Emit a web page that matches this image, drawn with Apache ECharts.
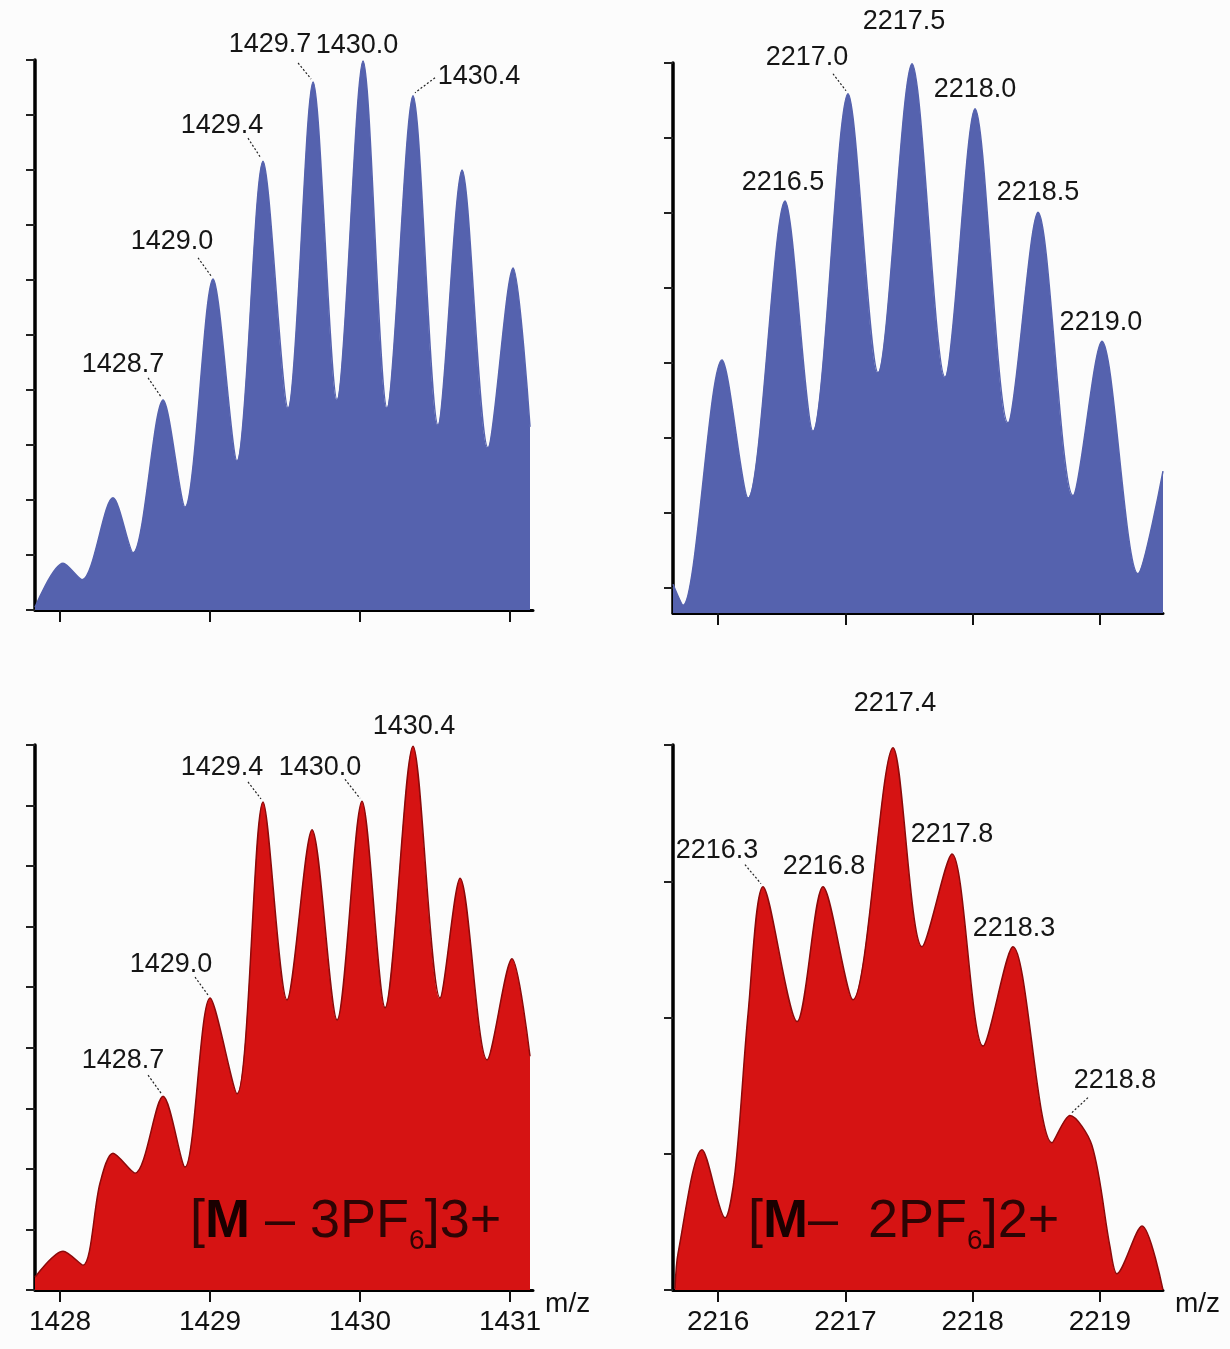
<!DOCTYPE html>
<html>
<head>
<meta charset="utf-8">
<script src="https://cdn.jsdelivr.net/npm/echarts@6/dist/echarts.min.js"></script>
<style>
html, body { margin: 0; padding: 0; background: #fcfcfc; }
#chart { width: 1230px; height: 1349px; }
</style>
</head>
<body>
<div id="chart"></div>
<script>
// top left: measured [M-3PF6]3+
var mzTL = [1427.833, 1428.02, 1428.147, 1428.353, 1428.487, 1428.687, 1428.833, 1429.02, 1429.18, 1429.353, 1429.52,
  1429.687, 1429.847, 1430.02, 1430.18, 1430.353, 1430.52, 1430.68, 1430.853, 1431.02, 1431.133];
var intTL = [0.05, 0.85, 0.55, 2.04, 1.04, 3.82, 1.87, 6.02, 2.71, 8.16, 3.67,
  9.6, 3.82, 9.98, 3.67, 9.35, 3.36, 8.0, 2.95, 6.22, 3.33];
var peakTextTL = ['1428.7', '1429.0', '1429.4', '1429.7', '1430.0', '1430.4'];
var peakIdxTL = [5, 7, 9, 11, 13, 15];

// top right: measured [M-2PF6]2+
var mzTR = [2215.646, 2215.725, 2216.031, 2216.236, 2216.526, 2216.746, 2217.021, 2217.257, 2217.524, 2217.783,
  2218.019, 2218.278, 2218.514, 2218.789, 2219.016, 2219.299, 2219.496];
var intTR = [0.05, -0.23, 3.04, 1.2, 5.16, 2.09, 6.59, 2.87, 6.99, 2.81,
  6.39, 2.2, 5.01, 1.23, 3.29, 0.19, 1.56];
var peakTextTR = ['2216.5', '2217.0', '2217.5', '2218.0', '2218.5', '2219.0'];
var peakIdxTR = [4, 6, 8, 10, 12, 14];

// bottom left: simulated [M-3PF6]3+
var mzBL = [1427.833, 1428.02, 1428.153, 1428.267, 1428.353, 1428.5, 1428.687, 1428.833, 1429.0, 1429.18, 1429.353,
  1429.513, 1429.68, 1429.847, 1430.013, 1430.167, 1430.353, 1430.533, 1430.667, 1430.847, 1431.013, 1431.133];
var intBL = [0.21, 0.64, 0.41, 1.77, 2.26, 1.93, 3.2, 2.03, 4.82, 3.24, 8.06,
  4.79, 7.6, 4.46, 8.07, 4.66, 8.98, 4.82, 6.8, 3.8, 5.47, 3.86];
var peakTextBL = ['1428.7', '1429.0', '1429.4', '1430.0', '1430.4'];
var peakIdxBL = [6, 8, 10, 14, 16];

// bottom right: simulated [M-2PF6]2+
var mzBR = [2215.662, 2215.686, 2215.874, 2216.055, 2216.134, 2216.236, 2216.353, 2216.621, 2216.825, 2217.06, 2217.375,
  2217.603, 2217.838, 2218.082, 2218.317, 2218.624, 2218.765, 2218.938, 2219.079, 2219.134, 2219.331, 2219.496];
var intBR = [0.01, 0.27, 1.03, 0.53, 0.87, 2.03, 2.96, 1.97, 2.96, 2.13, 3.98,
  2.52, 3.2, 1.79, 2.52, 1.08, 1.28, 1.06, 0.32, 0.12, 0.47, 0.0];
var peakTextBR = ['2216.3', '2216.8', '2217.4', '2217.8', '2218.3', '2218.8'];
var peakIdxBR = [6, 8, 10, 12, 14, 16];

var ticks3 = [1428, 1429, 1430, 1431];
var ticks2 = [2216, 2217, 2218, 2219];
var yTicksTL = [0, 1, 2, 3, 4, 5, 6, 7, 8, 9, 10];
var yTicksTR = [0, 1, 2, 3, 4, 5, 6, 7];
var yTicksBL = [0, 1, 2, 3, 4, 5, 6, 7, 8, 9];
var yTicksBR = [0, 1, 2, 3, 4];

// label placement (px from the peak): text dx, dy, leader start dx, dy
var layoutTL = [[-40, -35, -15, -22], [-41, -37, -15, -21], [-41, -36, -15, -23], [-43, -37, -15, -19], [-6, -16], [66, -19, 22, -18]];
var layoutTR = [[-2, -18], [-41, -36, -15, -20], [-8, -42], [0, -19], [0, -20], [-1, -19]];
var layoutBL = [[-40, -36, -15, -21], [-39, -34, -15, -21], [-41, -34, -15, -20], [-42, -34, -17, -22], [1, -20]];
var layoutBR = [[-46, -36, -18, -22], [1, -20], [2, -44], [0, -19], [1, -18], [45, -35, 18, -18]];

var FONT = '"Liberation Sans", Arial, sans-serif';
var BLUE = '#5562ae';
var RED = '#d61313';

function pairs(xs, ys) {
  return xs.map(function (x, i) { return [x, ys[i]]; });
}

function xAxisOf(gi, min, max, ticks, withLabels) {
  return {
    type: 'value', gridIndex: gi, min: min, max: max,
    splitLine: { show: false },
    axisLine: { onZero: false, lineStyle: { color: '#000', width: 3 } },
    axisTick: { customValues: ticks, length: 12, lineStyle: { color: '#111', width: 2 } },
    axisLabel: {
      show: withLabels, customValues: ticks, margin: 18,
      formatter: function (v) { return String(v); },
      fontFamily: FONT, fontSize: 28, color: '#111'
    },
    name: withLabels ? 'm/z' : '',
    nameLocation: 'end', nameGap: 12,
    nameTextStyle: { fontFamily: FONT, fontSize: 28, color: '#111', verticalAlign: 'top', padding: [0, 0, 0, 0] }
  };
}

function yAxisOf(gi, min, max, ticks) {
  return {
    type: 'value', gridIndex: gi, min: min, max: max,
    splitLine: { show: false },
    axisLine: { onZero: false, lineStyle: { color: '#000', width: 3.5 } },
    axisTick: { customValues: ticks, length: 9, lineStyle: { color: '#222', width: 2 } },
    axisLabel: { show: false }
  };
}

function areaSeries(gi, xs, ys, color, edge) {
  return {
    type: 'line', xAxisIndex: gi, yAxisIndex: gi,
    data: pairs(xs, ys),
    smooth: 0.3, showSymbol: false, symbol: 'none', silent: true,
    lineStyle: { color: edge, width: 1.5 },
    areaStyle: { color: color, opacity: 1, origin: 'start' }
  };
}

function labelSeries(gi, xs, ys, idx, texts, layout) {
  return {
    type: 'custom', xAxisIndex: gi, yAxisIndex: gi, clip: false, silent: true, z: 5,
    data: idx.map(function (k, i) { return [xs[k], ys[k], texts[i]]; }),
    renderItem: function (params, api) {
      var p = api.coord([api.value(0), api.value(1)]);
      var L = layout[params.dataIndex];
      var kids = [{
        type: 'text', x: p[0] + L[0], y: p[1] + L[1],
        style: {
          text: texts[params.dataIndex], fill: '#151515',
          font: '27px ' + FONT, align: 'center', verticalAlign: 'middle'
        }
      }];
      if (L.length > 2) {
        kids.push({
          type: 'line',
          shape: { x1: p[0] + L[2], y1: p[1] + L[3], x2: p[0] + (L[2] < 0 ? -2 : 2), y2: p[1] - 3 },
          style: { stroke: '#222', lineWidth: 1.2, lineDash: [2, 2] }
        });
      }
      return { type: 'group', children: kids };
    }
  };
}

var formulaRich = {
  a: { fontFamily: FONT, fontSize: 54, lineHeight: 54, verticalAlign: 'top', fill: '#2e0404' },
  m: { fontFamily: FONT, fontSize: 54, lineHeight: 54, verticalAlign: 'top', fontWeight: 'bold', fill: '#1a0000' },
  s: { fontFamily: FONT, fontSize: 28, lineHeight: 60, verticalAlign: 'bottom', fill: '#2e0404' }
};

var chart = echarts.init(document.getElementById('chart'));

var option = {
  backgroundColor: '#fcfcfc',
  animation: false,
  grid: [
    { left: 35, top: 60, width: 498, height: 550, outerBoundsMode: 'none' },
    { left: 673, top: 63, width: 490, height: 550, outerBoundsMode: 'none' },
    { left: 35, top: 745, width: 498, height: 545, outerBoundsMode: 'none' },
    { left: 673, top: 745, width: 490, height: 545, outerBoundsMode: 'none' }
  ],
  xAxis: [
    xAxisOf(0, 1427.833, 1431.153, ticks3, false),
    xAxisOf(1, 2215.646, 2219.496, ticks2, false),
    xAxisOf(2, 1427.833, 1431.153, ticks3, true),
    xAxisOf(3, 2215.646, 2219.496, ticks2, true)
  ],
  yAxis: [
    yAxisOf(0, 0, 10, yTicksTL),
    yAxisOf(1, -0.333, 7, yTicksTR),
    yAxisOf(2, 0, 9, yTicksBL),
    yAxisOf(3, 0, 4, yTicksBR)
  ],
  series: [
    areaSeries(0, mzTL, intTL, BLUE, BLUE),
    areaSeries(1, mzTR, intTR, BLUE, BLUE),
    areaSeries(2, mzBL, intBL, RED, '#8c0a0a'),
    areaSeries(3, mzBR, intBR, RED, '#8c0a0a'),
    labelSeries(0, mzTL, intTL, peakIdxTL, peakTextTL, layoutTL),
    labelSeries(1, mzTR, intTR, peakIdxTR, peakTextTR, layoutTR),
    labelSeries(2, mzBL, intBL, peakIdxBL, peakTextBL, layoutBL),
    labelSeries(3, mzBR, intBR, peakIdxBR, peakTextBR, layoutBR)
  ],
  graphic: [
    {
      type: 'text', left: 190, top: 1195, z: 10,
      style: { text: '{a|[}{m|M}{a| – 3PF}{s|6}{a|]3+}', rich: formulaRich }
    },
    {
      type: 'text', left: 748, top: 1195, z: 10,
      style: { text: '{a|[}{m|M}{a|–  2PF}{s|6}{a|]2+}', rich: formulaRich }
    }
  ]
};

chart.setOption(option);
</script>
</body>
</html>
